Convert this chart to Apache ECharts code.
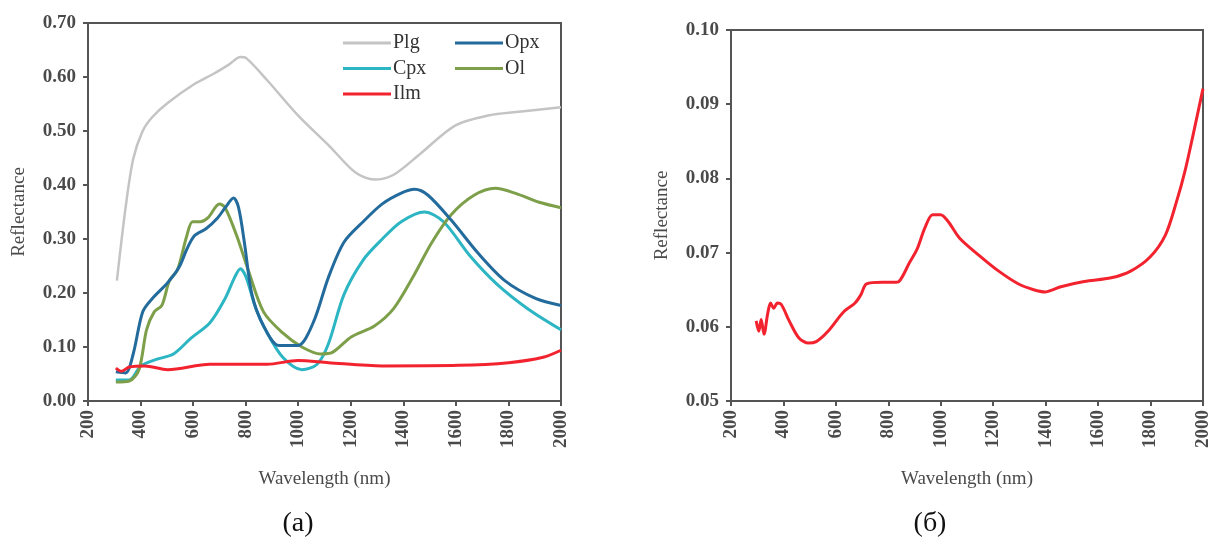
<!DOCTYPE html>
<html>
<head>
<meta charset="utf-8">
<script src="https://cdn.jsdelivr.net/npm/echarts@6/dist/echarts.min.js"></script>
<style>
html,body{margin:0;padding:0;background:#fff;}
#chart{width:1228px;height:545px;}
</style>
</head>
<body>
<div id="chart"></div>
<script>
// Tick labels
const xTicks = [200, 400, 600, 800, 1000, 1200, 1400, 1600, 1800, 2000];
const leftYTicks = ['0.00','0.10','0.20','0.30','0.40','0.50','0.60','0.70'];
const rightYTicks = ['0.05','0.06','0.07','0.08','0.09','0.10'];

// Panel (a) series: [wavelength nm, reflectance]
const plg = [[310,0.223],[343,0.358],[372,0.448],[408,0.500],[445,0.526],[503,0.552],[605,0.587],[678,0.606],[736,0.623],[780,0.637],[802,0.635],[882,0.594],[999,0.529],[1115,0.474],[1218,0.423],[1290,0.410],[1363,0.419],[1465,0.458],[1597,0.510],[1728,0.529],[1830,0.535],[2000,0.544]];
const opx = [[306,0.054],[343,0.052],[372,0.087],[408,0.165],[445,0.190],[503,0.219],[547,0.248],[576,0.281],[605,0.306],[649,0.319],[693,0.339],[722,0.358],[754,0.376],[773,0.358],[795,0.294],[824,0.197],[868,0.139],[926,0.103],[999,0.103],[1057,0.145],[1115,0.229],[1174,0.294],[1247,0.332],[1320,0.365],[1392,0.385],[1443,0.392],[1494,0.381],[1582,0.335],[1684,0.274],[1786,0.223],[1903,0.190],[2000,0.177]];
const cpx = [[306,0.039],[357,0.039],[401,0.065],[460,0.077],[525,0.087],[591,0.116],[664,0.145],[722,0.190],[758,0.229],[780,0.245],[802,0.229],[839,0.171],[882,0.126],[941,0.081],[1014,0.058],[1072,0.068],[1115,0.106],[1174,0.197],[1247,0.261],[1320,0.300],[1392,0.332],[1480,0.350],[1553,0.332],[1655,0.268],[1757,0.216],[1873,0.171],[2000,0.132]];
const ol = [[306,0.035],[357,0.037],[394,0.058],[423,0.132],[452,0.165],[481,0.177],[510,0.223],[540,0.242],[576,0.306],[598,0.332],[627,0.332],[656,0.339],[700,0.365],[722,0.358],[766,0.306],[810,0.242],[868,0.165],[941,0.126],[1014,0.100],[1086,0.087],[1130,0.090],[1203,0.119],[1290,0.139],[1363,0.171],[1436,0.229],[1509,0.294],[1582,0.345],[1669,0.381],[1750,0.394],[1830,0.384],[1917,0.368],[2000,0.358]];
const ilmA = [[306,0.061],[328,0.055],[357,0.063],[416,0.065],[503,0.058],[664,0.068],[882,0.068],[999,0.075],[1115,0.071],[1320,0.065],[1611,0.066],[1801,0.071],[1932,0.081],[2000,0.094]];

// Panel (б) series
const ilmB = [[296,0.0608],[306,0.0594],[315,0.0610],[326,0.0590],[340,0.0618],[351,0.0632],[363,0.0625],[377,0.0632],[392,0.0630],[422,0.0608],[459,0.0585],[496,0.0578],[525,0.0580],[570,0.0594],[629,0.0620],[673,0.0632],[695,0.0643],[717,0.0658],[776,0.0660],[821,0.0660],[840,0.0661],[880,0.0686],[910,0.0705],[939,0.0733],[969,0.0751],[999,0.0751],[1028,0.0742],[1073,0.0719],[1147,0.0696],[1221,0.0675],[1295,0.0658],[1354,0.0650],[1399,0.0647],[1458,0.0654],[1547,0.0661],[1650,0.0666],[1724,0.0675],[1798,0.0694],[1857,0.0724],[1901,0.0771],[1930,0.0808],[1960,0.0855],[2000,0.0921]];

const serif = '"Liberation Serif", "DejaVu Serif", serif';
const txt = '#4a4a4a';
const lineCol = '#555';

function xAxis(gi){
  return {
    type:'value', gridIndex:gi, min:200, max:2000, interval:200,
    name:'Wavelength (nm)', nameLocation:'middle', nameGap:69,
    nameTextStyle:{fontFamily:serif, fontSize:19, color:txt},
    axisLine:{show:true, onZero:false, lineStyle:{color:lineCol, width:2}},
    axisTick:{show:true, inside:false, length:5, lineStyle:{color:lineCol, width:2}},
    axisLabel:{rotate:90, fontFamily:serif, fontWeight:'bold', fontSize:19, color:txt, margin:9,
      formatter:function(v){return String(v);}},
    splitLine:{show:false}
  };
}
function yAxis(gi, min, max, interval){
  return {
    type:'value', gridIndex:gi, min:min, max:max, interval:interval,
    name:'Reflectance', nameLocation:'middle', nameGap:59, nameRotate:90,
    nameTextStyle:{fontFamily:serif, fontSize:19, color:txt},
    axisLine:{show:true, lineStyle:{color:lineCol, width:2}},
    axisTick:{show:true, inside:false, length:5, lineStyle:{color:lineCol, width:2}},
    axisLabel:{fontFamily:serif, fontWeight:'bold', fontSize:19, color:txt, margin:12,
      formatter:function(v){return v.toFixed(2);}},
    splitLine:{show:false}
  };
}
function line(name, data, color, width, xi){
  return {
    type:'line', name:name, data:data, xAxisIndex:xi, yAxisIndex:xi,
    smooth:0.3, showSymbol:false, symbol:'none',
    lineStyle:{color:color, width:width}, itemStyle:{color:color}
  };
}
const legendBase = {
  orient:'vertical', icon:'rect', itemWidth:48, itemHeight:3, itemGap:5.5, padding:0,
  textStyle:{fontFamily:serif, fontSize:20, color:'#333', padding:[0,0,0,-3], lineHeight:20}
};

const chart = echarts.init(document.getElementById('chart'));
chart.setOption({
  backgroundColor:'#fff',
  animation:false,
  title:[
    {text:'(a)', left:293, top:505, textAlign:'center', textStyle:{fontFamily:serif, fontSize:28, fontWeight:'normal', color:'#111'}},
    {text:'(б)', left:925, top:505, textAlign:'center', textStyle:{fontFamily:serif, fontSize:28, fontWeight:'normal', color:'#111'}}
  ],
  legend:[
    Object.assign({}, legendBase, {left:343, top:33, data:['Plg','Cpx','Ilm']}),
    Object.assign({}, legendBase, {left:455, top:33, data:['Opx','Ol']})
  ],
  grid:[
    {left:88, right:667, top:23, bottom:144, show:true, borderColor:lineCol, borderWidth:2, backgroundColor:'transparent'},
    {left:731, right:25, top:30, bottom:144, show:true, borderColor:lineCol, borderWidth:2, backgroundColor:'transparent'}
  ],
  xAxis:[xAxis(0), xAxis(1)],
  yAxis:[yAxis(0, 0, 0.7, 0.1), yAxis(1, 0.05, 0.10, 0.01)],
  series:[
    line('Plg', plg, '#c4c4c4', 2.5, 0),
    line('Cpx', cpx, '#2cb5c2', 3, 0),
    line('Ol', ol, '#7d9f4a', 3, 0),
    line('Opx', opx, '#236b9c', 3, 0),
    line('Ilm', ilmA, '#f2232e', 3, 0),
    line('Ilm (б)', ilmB, '#f2232e', 3, 1)
  ]
});
</script>
</body>
</html>
